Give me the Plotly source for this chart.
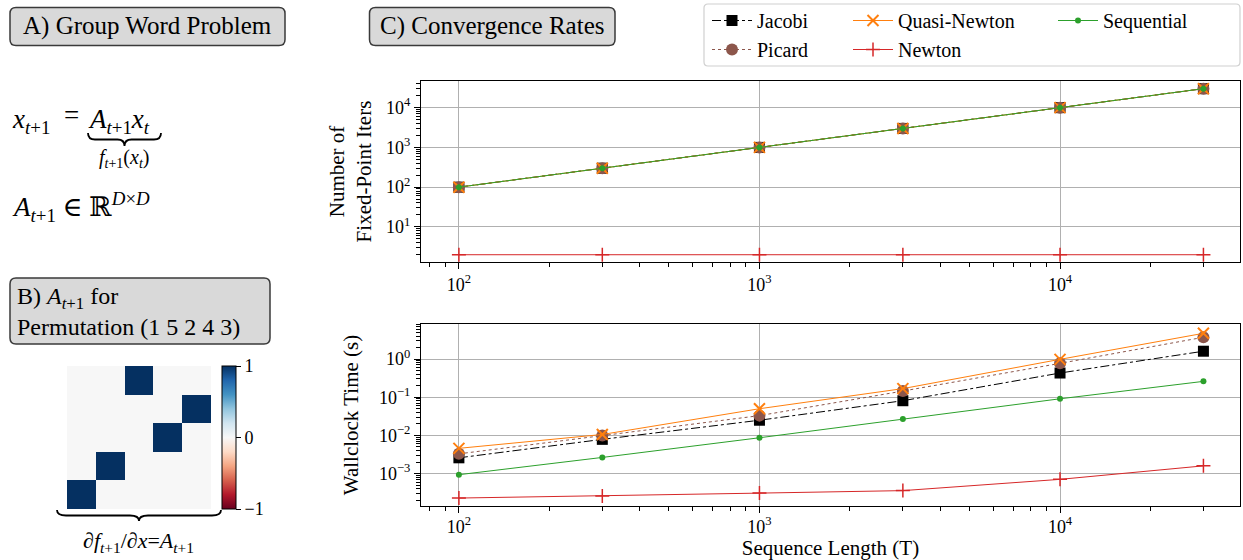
import plotly.graph_objects as go
import numpy as np

W, H = 1243, 560
FONT = "Liberation Serif, DejaVu Serif, serif"

# ---------------- data ----------------
seq_len = [100, 300, 1000, 3000, 10000, 30000]

iters_jacobi = [100, 300, 1000, 3000, 10000, 30000]
iters_picard = [100, 300, 1000, 3000, 10000, 30000]
iters_quasi = [100, 300, 1000, 3000, 10000, 30000]
iters_newton = [2, 2, 2, 2, 2, 2]
iters_seq = [100, 300, 1000, 3000, 10000, 30000]

time_jacobi = [2.6e-3, 7.9e-3, 2.5e-2, 8.1e-2, 0.43, 1.6]
time_picard = [3.3e-3, 1.0e-2, 3.3e-2, 0.145, 0.77, 3.7]
time_quasi = [4.6e-3, 1.06e-2, 5.0e-2, 0.168, 0.98, 4.7]
time_newton = [2.3e-4, 2.6e-4, 3.1e-4, 3.6e-4, 7.1e-4, 1.6e-3]
time_seq = [9.4e-4, 2.66e-3, 8.7e-3, 2.7e-2, 9.1e-2, 0.26]

perm_matrix = [
    [0, 0, 1, 0, 0],
    [0, 0, 0, 0, 1],
    [0, 0, 0, 1, 0],
    [0, 1, 0, 0, 0],
    [1, 0, 0, 0, 0],
]

x_tickvals = [100, 1000, 10000]
x_ticktext = ["10<sup>2</sup>", "10<sup>3</sup>", "10<sup>4</sup>"]
y1_tickvals = [10, 100, 1000, 10000]
y1_ticktext = ["10<sup>1</sup>", "10<sup>2</sup>", "10<sup>3</sup>", "10<sup>4</sup>"]
y2_tickvals = [1e-3, 1e-2, 1e-1, 1]
y2_ticktext = ["10<sup>−3</sup>", "10<sup>−2</sup>", "10<sup>−1</sup>", "10<sup>0</sup>"]
cb_tickvals = [-1, 0, 1]
cb_ticktext = ["−1", "0", "1"]


def X(px):
    return px / W


def Y(py):
    return 1 - py / H


def rrect(x0, y0, x1, y1, r=6):
    rx, ry = r / W, r / H
    a, b, c, d = X(x0), Y(y0), X(x1), Y(y1)
    return (f"M{a+rx},{b} L{c-rx},{b} Q{c},{b} {c},{b-ry} L{c},{d+ry} Q{c},{d} {c-rx},{d} "
            f"L{a+rx},{d} Q{a},{d} {a},{d+ry} L{a},{b-ry} Q{a},{b} {a+rx},{b} Z")


def brace(x0, x1, ytop, h=10, r=8):
    xm = (x0 + x1) / 2
    ym = ytop + h / 2
    yb = ytop + h
    return (f"M{X(x0)},{Y(ytop)} Q{X(x0)},{Y(ym)} {X(x0+r)},{Y(ym)} L{X(xm-r)},{Y(ym)} "
            f"Q{X(xm)},{Y(ym)} {X(xm)},{Y(yb)} Q{X(xm)},{Y(ym)} {X(xm+r)},{Y(ym)} "
            f"L{X(x1-r)},{Y(ym)} Q{X(x1)},{Y(ym)} {X(x1)},{Y(ytop)}")


BLACK = "black"
BROWN = "#8c564b"
ORANGE = "#ff7f0e"
RED = "#d62728"
GREEN = "#2ca02c"

fig = go.Figure()

styles = [
    ("Jacobi", iters_jacobi, time_jacobi, BLACK, "dashdot", dict(symbol="square", size=11, color=BLACK), "legend", 1),
    ("Picard", iters_picard, time_picard, BROWN, "dot", dict(symbol="circle", size=12, color=BROWN), "legend", 2),
    ("Quasi-Newton", iters_quasi, time_quasi, ORANGE, "solid",
     dict(symbol="x-thin", size=11, color=ORANGE, line=dict(color=ORANGE, width=2)), "legend2", 1),
    ("Newton", iters_newton, time_newton, RED, "solid",
     dict(symbol="cross-thin", size=10, color=RED, line=dict(color=RED, width=1.5)), "legend2", 2),
    ("Sequential", iters_seq, time_seq, GREEN, "solid", dict(symbol="circle", size=6, color=GREEN), "legend3", 1),
]

for name, it, tm, col, dash, mk, lg, rank in styles:
    fig.add_trace(go.Scatter(x=seq_len, y=it, mode="lines+markers", name=name,
                             line=dict(color=col, width=1, dash=dash), marker=mk,
                             xaxis="x", yaxis="y", legend=lg, legendrank=rank, showlegend=True))
    fig.add_trace(go.Scatter(x=seq_len, y=tm, mode="lines+markers", name=name,
                             line=dict(color=col, width=1, dash=dash), marker=mk,
                             xaxis="x2", yaxis="y2", showlegend=False))

rdbu = ['#67001f', '#b2182b', '#d6604d', '#f4a582', '#fddbc7', '#f7f7f7',
        '#d1e5f0', '#92c5de', '#4393c3', '#2166ac', '#053061']
cs = [[i / 10, c] for i, c in enumerate(rdbu)]

fig.add_trace(go.Heatmap(z=perm_matrix, colorscale=cs, zmin=-1, zmax=1, xaxis="x3", yaxis="y3",
                         showscale=True, hoverinfo="skip",
                         colorbar=dict(x=X(222), xanchor="left", thickness=14, thicknessmode="pixels",
                                       len=(509 - 366) / H, lenmode="fraction", y=Y(509), yanchor="bottom",
                                       outlinewidth=1, outlinecolor="black",
                                       tickvals=cb_tickvals, ticktext=cb_ticktext, ticks="outside",
                                       ticklen=5, tickcolor="black",
                                       tickfont=dict(family=FONT, size=18, color="black"),
                                       xpad=0, ypad=0)))

tickfont = dict(family=FONT, size=18, color="black")
common = dict(type="log", showline=True, mirror=True, linecolor="black", linewidth=1.2,
              ticks="outside", ticklen=6, tickcolor="black", tickwidth=1,
              showgrid=True, gridcolor="#b0b0b0", gridwidth=1.2, zeroline=False,
              tickfont=tickfont,
              minor=dict(ticks="outside", ticklen=3.5, tickcolor="black", dtick="D1", showgrid=False))

xr = [np.log10(74.8), np.log10(39700)]
legfont = dict(family=FONT, size=20, color="black")
titlefont = dict(family=FONT, size=21, color="black")
fig.update_layout(
    width=W, height=H, margin=dict(l=0, r=0, t=0, b=0),
    paper_bgcolor="white", plot_bgcolor="white",
    font=dict(family=FONT, size=16, color="black"),
    xaxis=dict(domain=[X(421), X(1240)], range=xr, anchor="y", tickmode="array",
               tickvals=x_tickvals, ticktext=x_ticktext, **common),
    yaxis=dict(domain=[Y(262), Y(81)], range=[0.118, 4.67], anchor="x", tickmode="array",
               tickvals=y1_tickvals, ticktext=y1_ticktext,
               title=dict(text="Number of<br>Fixed-Point Iters", font=titlefont, standoff=8),
               **common),
    xaxis2=dict(domain=[X(421), X(1240)], range=xr, anchor="y2", tickmode="array",
                tickvals=x_tickvals, ticktext=x_ticktext, ticklabelstandoff=-2,
                title=dict(text="Sequence Length (T)", font=titlefont, standoff=4), **common),
    yaxis2=dict(domain=[Y(506), Y(324)], range=[-3.846, 0.916], anchor="x2", tickmode="array",
                tickvals=y2_tickvals, ticktext=y2_ticktext,
                title=dict(text="Wallclock Time (s)", font=titlefont, standoff=14), **common),
    xaxis3=dict(domain=[X(67), X(211)], range=[-0.5, 4.5], visible=False, anchor="y3"),
    yaxis3=dict(domain=[Y(509), Y(366)], range=[4.5, -0.5], visible=False, anchor="x3"),
    legend=dict(x=X(707), y=Y(1), xanchor="left", yanchor="top", bgcolor="rgba(0,0,0,0)",
                font=legfont, tracegroupgap=0, itemwidth=40),
    legend2=dict(x=X(848), y=Y(1), xanchor="left", yanchor="top", bgcolor="rgba(0,0,0,0)",
                 font=legfont, tracegroupgap=0, itemwidth=40),
    legend3=dict(x=X(1053), y=Y(1), xanchor="left", yanchor="top", bgcolor="rgba(0,0,0,0)",
                 font=legfont, tracegroupgap=0, itemwidth=40),
)

shapes = []
BOXFILL = "#d9d9d9"
BOXLINE = "#3a3a3a"
for (x0, y0, x1, y1) in [(10, 7.5, 285, 45.5), (10, 278, 270, 344), (369.5, 7.5, 615, 45.5)]:
    shapes.append(dict(type="path", path=rrect(x0, y0, x1, y1), xref="paper", yref="paper",
                       fillcolor=BOXFILL, line=dict(color=BOXLINE, width=1.5), layer="above"))
shapes.append(dict(type="path", path=rrect(704, 4, 1240, 66, r=4), xref="paper", yref="paper",
                   fillcolor="rgba(255,255,255,0.8)", line=dict(color="#d0d0d0", width=1.2), layer="below"))
shapes.append(dict(type="path", path=brace(88, 161, 133, h=13, r=7), xref="paper", yref="paper",
                   line=dict(color="black", width=1.8)))
shapes.append(dict(type="path", path=brace(57, 221, 510, h=11, r=9), xref="paper", yref="paper",
                   line=dict(color="black", width=1.8)))
fig.update_layout(shapes=shapes)

ann = []


def A(text, px, py, size, xanchor="left", align="left"):
    ann.append(dict(text=text, x=X(px), y=Y(py), xref="paper", yref="paper", showarrow=False,
                    xanchor=xanchor, yanchor="middle", align=align, borderpad=0,
                    font=dict(family=FONT, size=size, color="black")))


A("A) Group Word Problem", 147.5, 26.5, 25, xanchor="center")
A("C) Convergence Rates", 492, 26.5, 25, xanchor="center")
A("B) <i>A</i><sub><i>t</i>+1</sub> for<br>Permutation (1 5 2 4 3)", 16, 311, 24)
A("<i>x</i><sub><i>t</i>+1</sub>", 11, 121, 27)
A("=", 71, 115, 27, xanchor="center")
A("<i>A</i><sub><i>t</i>+1</sub><i>x</i><sub><i>t</i></sub>", 87, 121, 27)
A("<i>f</i><sub><i>t</i>+1</sub>(<i>x</i><sub><i>t</i></sub>)", 124, 158, 20, xanchor="center")
A("<i>A</i><sub><i>t</i>+1</sub> ∈ ℝ<sup><i>D</i>×<i>D</i></sup>", 11, 207, 27)
A("∂<i>f</i><sub><i>t</i>+1</sub>/∂<i>x</i>=<i>A</i><sub><i>t</i>+1</sub>", 138, 542, 22, xanchor="center")
fig.update_layout(annotations=ann)

fig.write_html("out.html", config={"displayModeBar": False},
               post_script="document.body.style.margin='0';document.body.style.padding='0';"
                           "document.body.style.overflow='hidden';")
